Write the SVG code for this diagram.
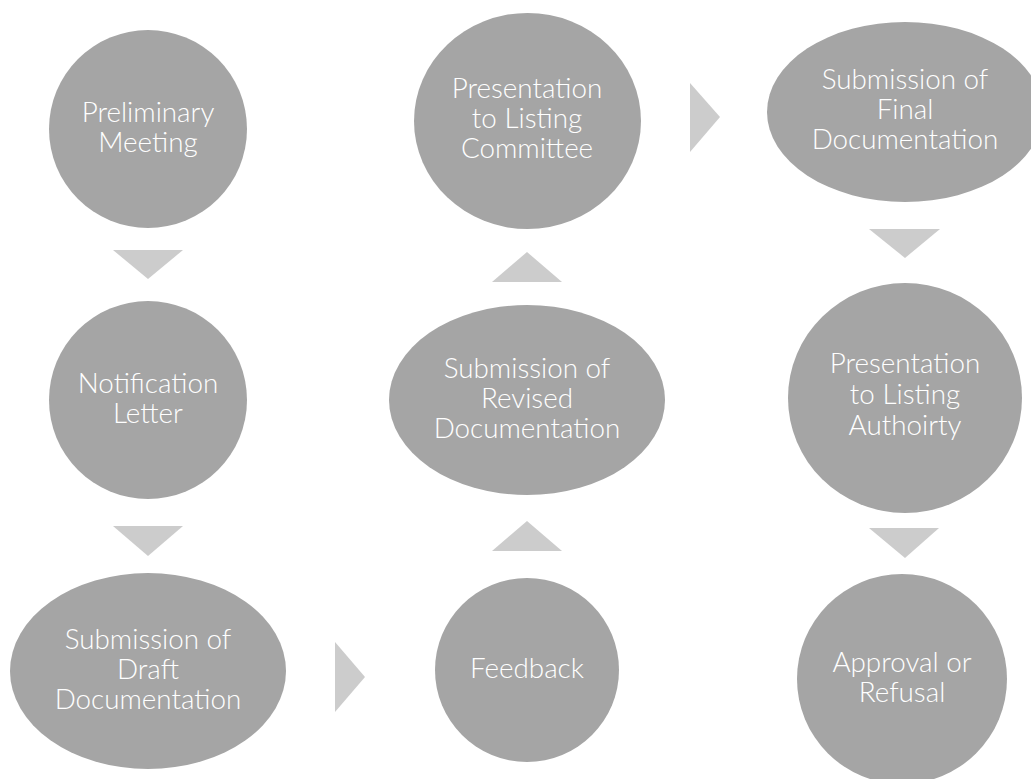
<svg xmlns="http://www.w3.org/2000/svg" width="1031" height="779" viewBox="0 0 1031 779">
  <style>
    .node { fill: #a5a5a5; }
    .arrow { fill: #cccccc; }
    .label { font-family: Lato, "Open Sans", "Liberation Sans", sans-serif; font-weight: 300; font-size: 27.8px; fill: #ffffff; text-anchor: middle; }
  </style>
  <rect width="1031" height="779" fill="#ffffff"/>

  <!-- flow arrows between steps -->
  <g id="connectors">
    <polygon class="arrow" points="113,250 183,250 148,279"/>
    <polygon class="arrow" points="113,526 183,526 148,556"/>
    <polygon class="arrow" points="335,642 365,677 335,712"/>
    <polygon class="arrow" points="492,551 562,551 527,521"/>
    <polygon class="arrow" points="492,282 562,282 527,252"/>
    <polygon class="arrow" points="690,83 720,117 690,152"/>
    <polygon class="arrow" points="869,229 940,229 905,258"/>
    <polygon class="arrow" points="869,528 939,528 905,558"/>
  </g>

  <g id="preliminary-meeting">
    <circle class="node" cx="148" cy="129" r="99"/>
    <text class="label" x="148" y="122">Preliminary</text>
    <text class="label" x="148" y="152">Meeting</text>
  </g>

  <g id="notification-letter">
    <circle class="node" cx="148" cy="400" r="99"/>
    <text class="label" x="148" y="393">Notification</text>
    <text class="label" x="148" y="423">Letter</text>
  </g>

  <g id="draft-documentation">
    <ellipse class="node" cx="148" cy="671" rx="138" ry="98"/>
    <text class="label" x="148" y="649">Submission of</text>
    <text class="label" x="148" y="679">Draft</text>
    <text class="label" x="148" y="709">Documentation</text>
  </g>

  <g id="feedback">
    <circle class="node" cx="527" cy="670" r="92"/>
    <text class="label" x="527" y="678">Feedback</text>
  </g>

  <g id="revised-documentation">
    <ellipse class="node" cx="527" cy="400" rx="138" ry="95"/>
    <text class="label" x="527" y="378">Submission of</text>
    <text class="label" x="527" y="408">Revised</text>
    <text class="label" x="527" y="438">Documentation</text>
  </g>

  <g id="listing-committee">
    <ellipse class="node" cx="527.5" cy="121" rx="113.5" ry="108"/>
    <text class="label" x="527" y="98">Presentation</text>
    <text class="label" x="527" y="128">to Listing</text>
    <text class="label" x="527" y="158">Committee</text>
  </g>

  <g id="final-documentation">
    <ellipse class="node" cx="905" cy="112" rx="138" ry="90"/>
    <text class="label" x="905" y="89">Submission of</text>
    <text class="label" x="905" y="119">Final</text>
    <text class="label" x="905" y="149">Documentation</text>
  </g>

  <g id="listing-authority">
    <ellipse class="node" cx="905" cy="398" rx="117" ry="115"/>
    <text class="label" x="905" y="373">Presentation</text>
    <text class="label" x="905" y="404">to Listing</text>
    <text class="label" x="905" y="435">Authoirty</text>
  </g>

  <g id="approval-or-refusal">
    <circle class="node" cx="902" cy="679" r="105"/>
    <text class="label" x="902" y="672">Approval or</text>
    <text class="label" x="902" y="702">Refusal</text>
  </g>
</svg>
